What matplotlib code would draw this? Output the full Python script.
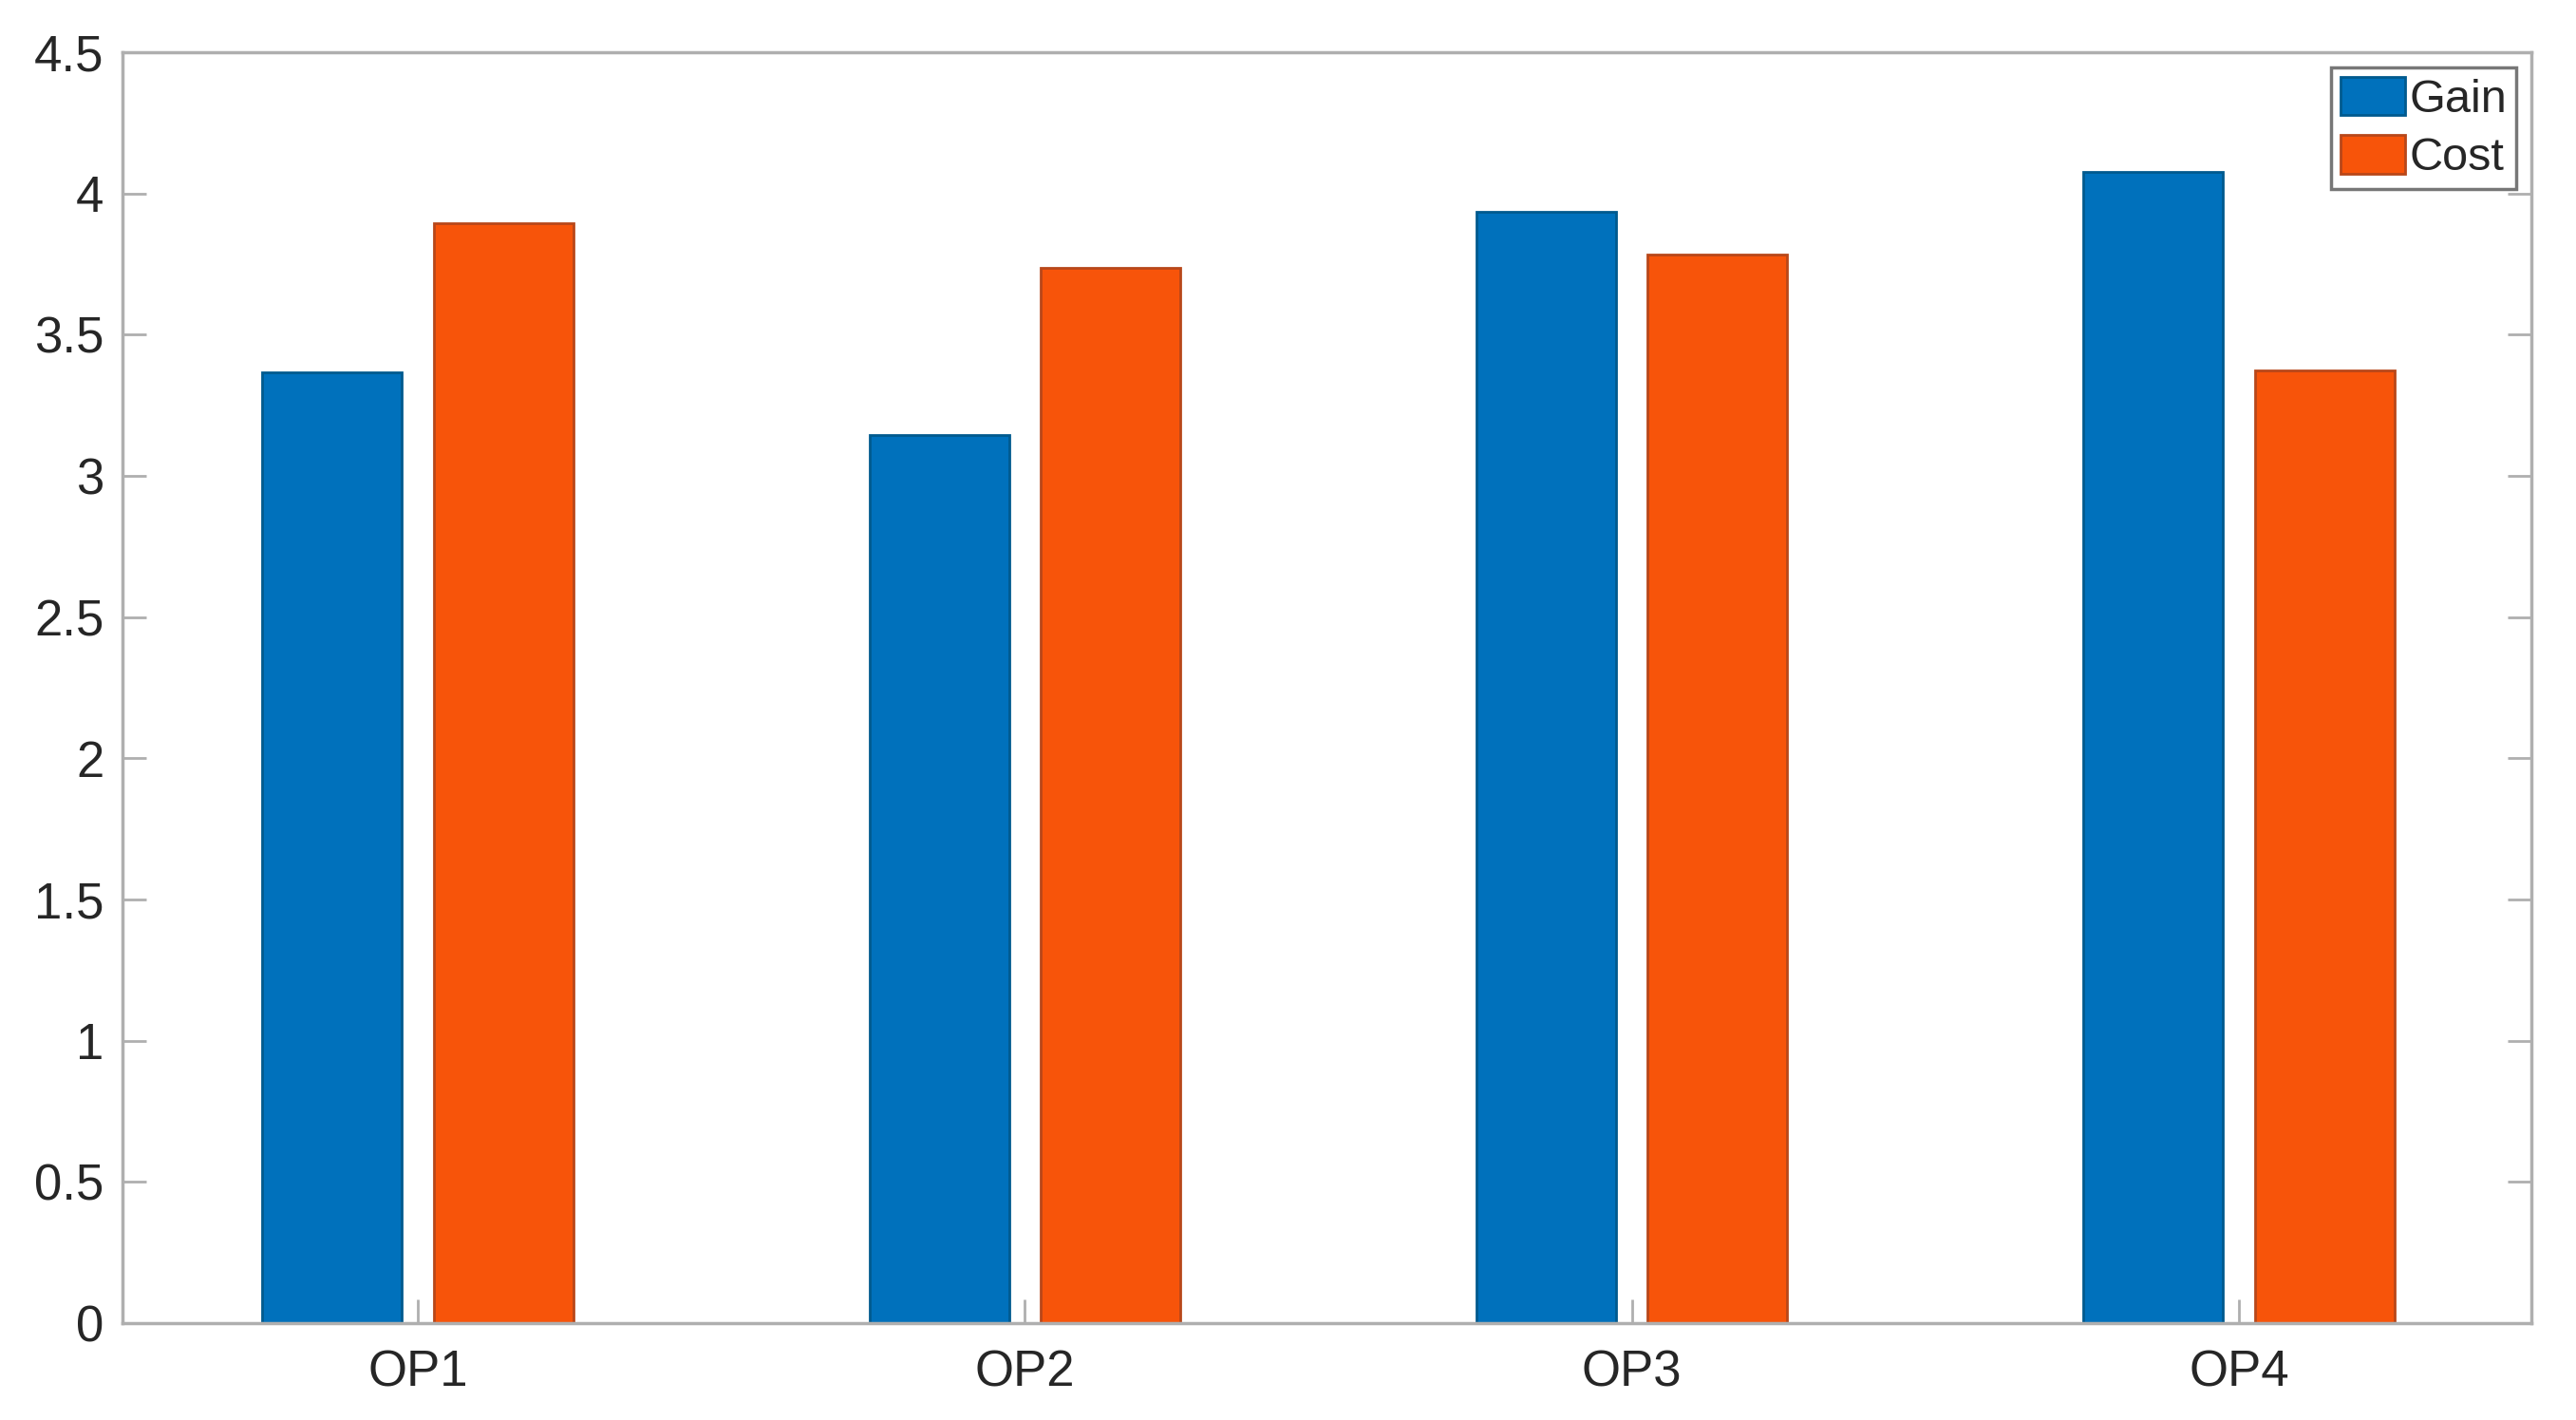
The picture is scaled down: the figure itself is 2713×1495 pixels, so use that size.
import matplotlib
matplotlib.use("Agg")
import matplotlib.pyplot as plt
import numpy as np

categories = ["OP1", "OP2", "OP3", "OP4"]
gain = [3.365, 3.146, 3.935, 4.077]
cost = [3.895, 3.737, 3.784, 3.375]
yticks = [0, 0.5, 1, 1.5, 2, 2.5, 3, 3.5, 4, 4.5]
ytick_labels = ["0", "0.5", "1", "1.5", "2", "2.5", "3", "3.5", "4", "4.5"]

plt.rcParams['font.family'] = ['Liberation Sans', 'DejaVu Sans']

fig = plt.figure(figsize=(27.13, 14.95), dpi=100)
ax = fig.add_axes([0.04755, 0.0682, 0.9827 - 0.04755, 0.9632 - 0.0682])

x = np.arange(1, len(categories) + 1)
w = 0.23
off = 0.141
ax.bar(x - off, gain, width=w, color='#0071BC', edgecolor='#005A8E', linewidth=2, label='Gain')
ax.bar(x + off, cost, width=w, color='#F7540A', edgecolor='#B8471A', linewidth=2, label='Cost')

ax.set_xlim(0.5135, 4.482)
ax.set_ylim(0, 4.5)
ax.set_xticks(x)
ax.set_xticklabels(categories)
ax.set_yticks(yticks)
ax.set_yticklabels(ytick_labels)

axcol = '#AFAFAF'
for s in ax.spines.values():
    s.set_color(axcol)
    s.set_linewidth(2.5)
ax.tick_params(axis='both', direction='in', length=18, width=2, color=axcol,
               labelsize=38, labelcolor='#262626')
ax.tick_params(axis='y', right=True, pad=14)
ax.tick_params(axis='x', top=False, pad=20)

leg = ax.legend(loc='upper right', fontsize=35, frameon=True, fancybox=False,
                handlelength=1.4, handleheight=0.9, handletextpad=0.1,
                borderpad=0.2, labelspacing=0.3, borderaxespad=0.33)
leg.get_frame().set_edgecolor('#555555')
leg.get_frame().set_linewidth(2.5)
for t in leg.get_texts():
    t.set_color('#262626')

fig.savefig("out.png", dpi=100)
